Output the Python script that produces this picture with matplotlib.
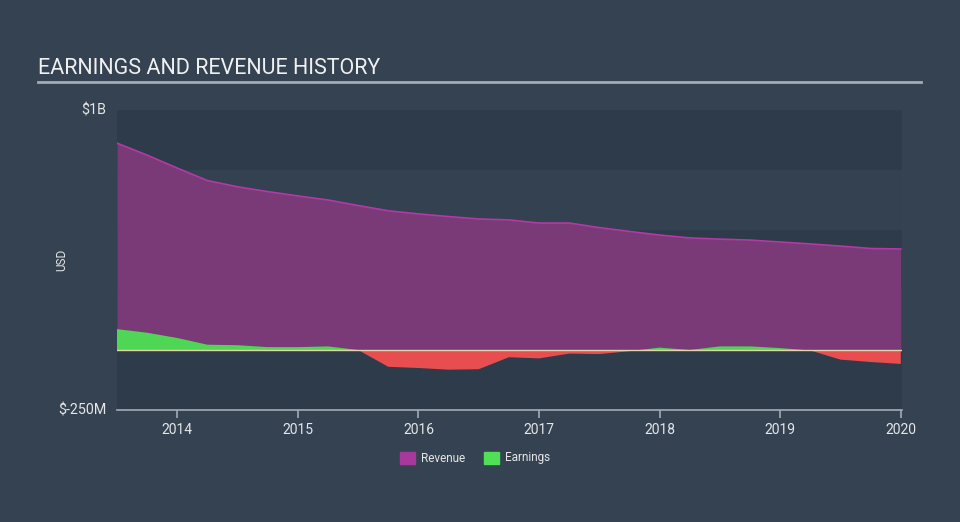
import matplotlib
matplotlib.use("Agg")
import matplotlib.pyplot as plt
import numpy as np
from matplotlib.patches import Rectangle

plt.rcParams['font.family'] = ['Roboto', 'DejaVu Sans']

dates = [2013.50, 2013.75, 2014.00, 2014.25, 2014.50, 2014.75, 2015.00, 2015.25,
         2015.50, 2015.75, 2016.00, 2016.25, 2016.50, 2016.75, 2017.00, 2017.25,
         2017.50, 2017.75, 2018.00, 2018.25, 2018.50, 2018.75, 2019.00, 2019.25,
         2019.50, 2019.75, 2020.00]
revenue = [862, 812, 758, 706, 680, 660, 642, 625,
           602, 580, 567, 556, 546, 542, 529, 529,
           510, 494, 479, 467, 462, 458, 450, 442,
           433, 423, 421]
earnings = [87, 72, 50, 22, 20, 12, 12, 15,
            0, -70, -75, -82, -80, -30, -35, -15,
            -17, -5, 10, 0, 15, 15, 8, -2,
            -40, -50, -58]
tick_years = [2014, 2015, 2016, 2017, 2018, 2019, 2020]
y_labels = {1000: "$1B", -250: "$-250M"}

bg = '#344252'
fig = plt.figure(figsize=(9.6, 5.22), dpi=100, facecolor=bg)
ax = fig.add_axes([117/960, (522-410)/522, 785/960, 300/522])
ax.set_facecolor(bg)
xmin, xmax = 2013.5, 2020.01
ax.set_xlim(xmin, xmax)
ax.set_ylim(-250, 1000)

# bands
band_dark = '#2e3b4a'
band_light = '#334151'
for lo, hi, c in [(750, 1000, band_dark), (500, 750, band_light), (250, 500, band_dark),
                  (0, 250, band_light), (-250, 0, band_dark)]:
    ax.axhspan(lo, hi, color=c, lw=0, zorder=0)

d = np.array(dates)
r = np.array(revenue, dtype=float)
e = np.array(earnings, dtype=float)

ax.fill_between(d, 0, r, color='#7a3a77', lw=0, zorder=2)
ax.plot(d, r, color='#b23aa6', lw=1.2, zorder=3)
ax.fill_between(d, 0, e, where=e >= 0, interpolate=True, color='#4fd655', lw=0, zorder=4)
ax.fill_between(d, 0, e, where=e <= 0, interpolate=True, color='#e84e4f', lw=0, zorder=4)
ax.axhline(0, color='#e0d6a8', lw=1.0, zorder=5)

for s in ['top', 'right', 'left']:
    ax.spines[s].set_visible(False)
ax.spines['bottom'].set_color('#a3abb5')
ax.spines['bottom'].set_linewidth(1.2)
ax.set_xticks(tick_years)
ax.set_xticklabels([str(t) for t in tick_years])
ax.tick_params(axis='x', colors='#a3abb5', length=6, width=1.2, labelcolor='#e6e6e6',
               labelsize=10, pad=3)
ax.set_yticks([])

for v, lab in y_labels.items():
    ax.text(-0.014, (v + 250) / 1250, lab, transform=ax.transAxes, ha='right',
            va='center', color='#e6e6e6', fontsize=10.3)

fig.text(62/960, 1 - 260/522, "USD", rotation=90, ha='center', va='center',
         color='#e6e6e6', fontsize=8.5)

fig.text(38/960, 1 - 69/522, "EARNINGS AND REVENUE HISTORY", ha='left', va='center',
         color='#f0f0f0', fontsize=15.5)
fig.add_artist(plt.Line2D([38/960, 921/960], [1 - 82/522, 1 - 82/522],
                          color='#a5abb2', lw=2, transform=fig.transFigure))

# legend
for x0, col, lab in [(400, '#a8389c', 'Revenue'), (484, '#4fe055', 'Earnings')]:
    fig.add_artist(Rectangle((x0/960, 1 - 464/522), 15/960, 12/522, color=col,
                             transform=fig.transFigure))
    fig.text((x0 + 21)/960, 1 - 458/522, lab, ha='left', va='center', color='#e6e6e6',
             fontsize=8.5)

fig.savefig('out.png', dpi=100, facecolor=bg)
